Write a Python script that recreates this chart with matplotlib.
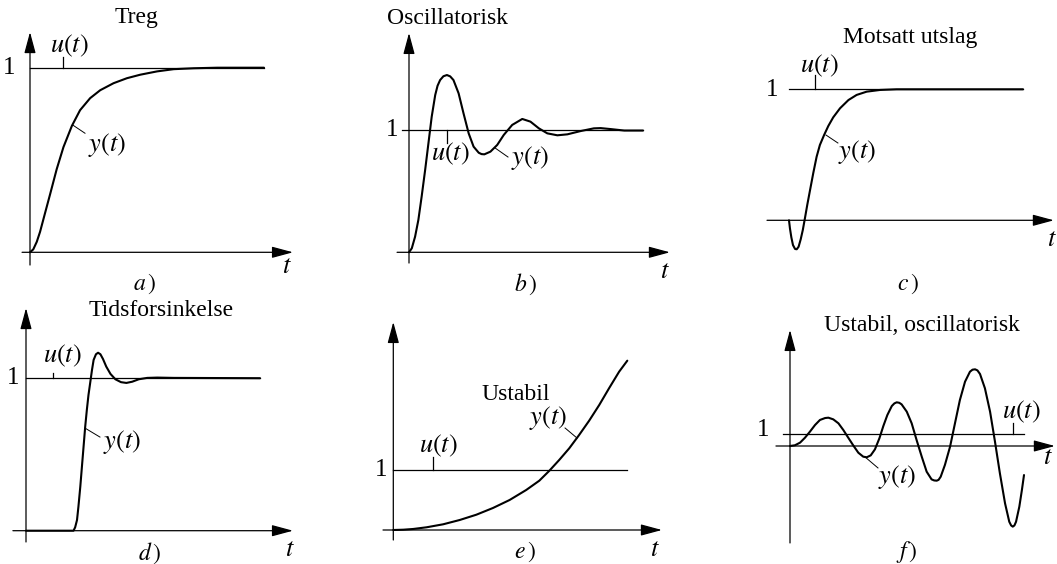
import matplotlib
matplotlib.use("Agg")
import matplotlib.pyplot as plt

plt.rcParams['font.family'] = ['Liberation Serif', 'DejaVu Serif']
plt.rcParams['mathtext.fontset'] = 'stix'

# Step responses: t in time units, y relative to the unit step u(t)
treg_t = [0, 0.14, 0.29, 0.43, 0.64, 0.86, 1.14, 1.43, 1.79, 2.14, 2.57, 3.0,
          3.57, 4.14, 4.71, 5.43, 6.14, 7.0, 8.0, 10.0]
treg_y = [0, 0.016, 0.057, 0.111, 0.211, 0.315, 0.45, 0.57, 0.685, 0.77, 0.835,
          0.878, 0.916, 0.943, 0.962, 0.98, 0.992, 0.997, 1.0, 1.0]

osc_t = [0, 0.12, 0.26, 0.40, 0.54, 0.69, 0.83, 0.97, 1.12, 1.22, 1.33, 1.47,
         1.62, 1.76, 1.90, 2.12, 2.33, 2.55, 2.76, 2.98, 3.10, 3.22, 3.48, 3.77,
         4.05, 4.41, 4.84, 5.19, 5.55, 5.91, 6.34, 6.77, 7.34, 7.90, 8.19, 8.62,
         9.20, 10.0]
osc_y = [0, 0.033, 0.128, 0.265, 0.456, 0.675, 0.893, 1.111, 1.289, 1.365,
         1.412, 1.443, 1.453, 1.442, 1.412, 1.303, 1.139, 0.975, 0.866, 0.816,
         0.805, 0.803, 0.825, 0.880, 0.962, 1.044, 1.093, 1.071, 1.016, 0.975,
         0.959, 0.967, 0.994, 1.016, 1.018, 1.010, 0.998, 0.998]

mots_t = [0, 0.04, 0.10, 0.17, 0.26, 0.33, 0.41, 0.50, 0.59, 0.68, 0.78, 0.90,
          1.04, 1.18, 1.32, 1.50, 1.68, 1.89, 2.18, 2.54, 2.89, 3.32, 3.89, 4.60,
          10.0]
mots_y = [0, -0.061, -0.130, -0.189, -0.219, -0.221, -0.202, -0.145, -0.074,
          0.015, 0.117, 0.231, 0.363, 0.485, 0.575, 0.651, 0.720, 0.786, 0.855,
          0.918, 0.957, 0.982, 0.995, 1.0, 1.0]

tids_t = [0, 2.03, 2.10, 2.18, 2.24, 2.32, 2.39, 2.46, 2.53, 2.60, 2.67, 2.75,
          2.82, 2.89, 2.99, 3.08, 3.18, 3.29, 3.43, 3.61, 3.82, 4.06, 4.29, 4.54,
          4.82, 5.18, 5.61, 6.32, 10.0]
tids_y = [0, 0, 0.022, 0.070, 0.157, 0.288, 0.420, 0.551, 0.682, 0.792, 0.890,
          0.977, 1.054, 1.120, 1.157, 1.167, 1.157, 1.126, 1.076, 1.028, 0.993,
          0.974, 0.969, 0.977, 0.993, 1.002, 1.004, 1.002, 1.0]

ustab_t = [0, 0.43, 0.85, 1.42, 2.13, 2.84, 3.55, 4.26, 4.97, 5.68, 6.24, 6.67,
           7.09, 7.52, 7.94, 8.37, 8.80, 9.22, 9.65, 10.0]
ustab_y = [0, 0.005, 0.017, 0.045, 0.095, 0.167, 0.255, 0.367, 0.5, 0.667,
           0.822, 0.988, 1.167, 1.362, 1.583, 1.822, 2.083, 2.362, 2.638, 2.822]

uosc_t = [0, 0.21, 0.43, 0.64, 0.85, 1.07, 1.28, 1.50, 1.64, 1.85, 2.07, 2.28,
          2.49, 2.71, 2.92, 3.13, 3.28, 3.45, 3.63, 3.82, 3.99, 4.16, 4.35, 4.46,
          4.56, 4.67, 4.77, 4.99, 5.20, 5.41, 5.63, 5.84, 6.05, 6.16, 6.27, 6.35,
          6.44, 6.62, 6.84, 7.05, 7.26, 7.48, 7.69, 7.80, 7.91, 8.01, 8.12, 8.33,
          8.55, 8.76, 8.97, 9.19, 9.37, 9.45, 9.52, 9.59, 9.66, 9.80, 9.91, 10.0]
uosc_y = [0, 0.06, 0.28, 0.69, 1.19, 1.75, 2.17, 2.33, 2.36, 2.22, 1.89, 1.33,
          0.69, 0.03, -0.56, -0.89, -0.94, -0.78, -0.28, 0.64, 1.67, 2.58, 3.33,
          3.55, 3.64, 3.60, 3.47, 2.86, 1.89, 0.5, -0.89, -2.14, -2.78, -2.87,
          -2.89, -2.82, -2.56, -1.58, -0.06, 1.89, 3.83, 5.36, 6.19, 6.36, 6.39,
          6.30, 6.0, 4.81, 2.86, 0.36, -2.28, -4.78, -6.31, -6.62, -6.72, -6.62,
          -6.31, -5.06, -3.67, -2.42]

W, H = 1057, 564
DT = 23.4  # pixels per time unit, same for every panel

fig = plt.figure(figsize=(W / 100, H / 100), dpi=100)


def panel(ox, oy, h):
    # full-figure axes whose origin sits at pixel (ox, oy), y=1 is h px higher
    ax = fig.add_axes([0, 0, 1, 1])
    ax.set_xlim(-ox / DT, (W - ox) / DT)
    ax.set_ylim((oy - H) / h, oy / h)
    ax.axis('off')
    ax.patch.set_alpha(0)
    return ax


def frame(ax, t0, t1, y0, y1):
    kw = dict(arrowstyle='-|>,head_length=1.3,head_width=0.35', color='k',
              lw=0.9, shrinkA=0, shrinkB=0)
    ax.annotate('', xy=(t1, 0), xytext=(t0, 0), arrowprops=kw)
    ax.annotate('', xy=(0, y1), xytext=(0, y0), arrowprops=kw)


def step_line(ax, t0, t1, tick_t, tick_y):
    ax.plot([t0, t1], [1, 1], color='k', lw=0.9)
    ax.plot([tick_t, tick_t], [1, tick_y], color='k', lw=0.9)


def txt(ax, t, y, s, size=19):
    ax.text(t, y, s, ha='center', va='center', fontsize=size)


def draw(ax, t, y):
    ax.plot(t, y, color='k', lw=1.5, solid_joinstyle='round',
            solid_capstyle='round')


def leader(ax, p0, p1):
    ax.plot([p0[0], p1[0]], [p0[1], p1[1]], color='k', lw=0.7)


# a) Treg
ax = panel(30, 252.3, 184.6)
frame(ax, -0.34, 11.24, -0.069, 1.193)
step_line(ax, 0, 10, 1.41, 1.058)
draw(ax, treg_t, treg_y)
txt(ax, 4.55, 1.272, 'Treg', 17)
txt(ax, -0.9, 1.0, '1', 18)
txt(ax, 1.67, 1.118, r'$u(t)$')
txt(ax, 3.29, 0.58, r'$y(t)$')
leader(ax, (1.82, 0.69), (2.35, 0.645))
txt(ax, 11.0, -0.08, r'$t$')
txt(ax, 4.9, -0.17, r'$a\,)$', 17)

# b) Oscillatorisk
ax = panel(409, 252.3, 122)
frame(ax, -0.51, 11.15, -0.088, 1.798)
step_line(ax, -0.3, 10, 1.62, 0.896)
draw(ax, osc_t, osc_y)
txt(ax, 1.63, 1.92, 'Oscillatorisk', 17)
txt(ax, -0.73, 1.0, '1', 18)
txt(ax, 1.75, 0.806, r'$u(t)$')
txt(ax, 5.17, 0.773, r'$y(t)$')
leader(ax, (3.68, 0.855), (4.23, 0.781))
txt(ax, 10.95, -0.16, r'$t$')
txt(ax, 5.0, -0.26, r'$b\,)$', 17)

# c) Motsatt utslag
ax = panel(789, 220.3, 131)
frame(ax, -0.94, 11.32, -0.395, 2.124)
step_line(ax, 0, 10, 1.11, 1.109)
draw(ax, mots_t, mots_y)
txt(ax, 5.17, 1.399, 'Motsatt utslag', 17)
txt(ax, -0.73, 0.994, '1', 18)
txt(ax, 1.28, 1.177, r'$u(t)$')
txt(ax, 2.91, 0.521, r'$y(t)$')
leader(ax, (1.58, 0.651), (2.09, 0.590))
txt(ax, 11.24, -0.15, r'$t$')
txt(ax, 5.09, -0.487, r'$c\,)$', 17)

# d) Tidsforsinkelse
ax = panel(26, 530.7, 152.5)
frame(ax, -0.56, 11.41, -0.074, 1.460)
step_line(ax, 0, 10, 1.15, 1.034)
draw(ax, tids_t, tids_y)
txt(ax, 5.77, 1.441, 'Tidsforsinkelse', 17)
txt(ax, -0.56, 1.0, '1', 18)
txt(ax, 1.54, 1.146, r'$u(t)$')
txt(ax, 4.10, 0.582, r'$y(t)$')
leader(ax, (2.52, 0.673), (3.16, 0.614))
txt(ax, 11.28, -0.126, r'$t$')
txt(ax, 5.30, -0.146, r'$d\,)$', 17)

# e) Ustabil
ax = panel(393.3, 530, 60)
frame(ax, -0.44, 11.48, -0.167, 3.467)
step_line(ax, 0, 10, 1.70, 1.217)
draw(ax, ustab_t, ustab_y)
txt(ax, 5.24, 2.25, 'Ustabil', 17)
txt(ax, -0.53, 1.0, '1', 18)
txt(ax, 1.91, 1.4, r'$u(t)$')
txt(ax, 6.61, 1.867, r'$y(t)$')
leader(ax, (7.34, 1.70), (7.85, 1.533))
txt(ax, 11.18, -0.333, r'$t$')
txt(ax, 5.63, -0.367, r'$e\,)$', 17)

# f) Ustabil, oscillatorisk
ax = panel(790, 446, 12)
frame(ax, -0.60, 11.32, -8.08, 9.67)
step_line(ax, -0.31, 10, 9.53, 1.92)
draw(ax, uosc_t, uosc_y)
txt(ax, 5.64, 10.08, 'Ustabil, oscillatorisk', 17)
txt(ax, -1.15, 1.33, '1', 18)
txt(ax, 9.91, 2.83, r'$u(t)$')
txt(ax, 4.57, -2.58, r'$y(t)$')
leader(ax, (3.21, -0.92), (3.76, -1.83))
txt(ax, 11.03, -1.0, r'$t$')
txt(ax, 5.0, -8.83, r'$f\,)$', 17)

fig.savefig('out.png', dpi=100, facecolor='white')
